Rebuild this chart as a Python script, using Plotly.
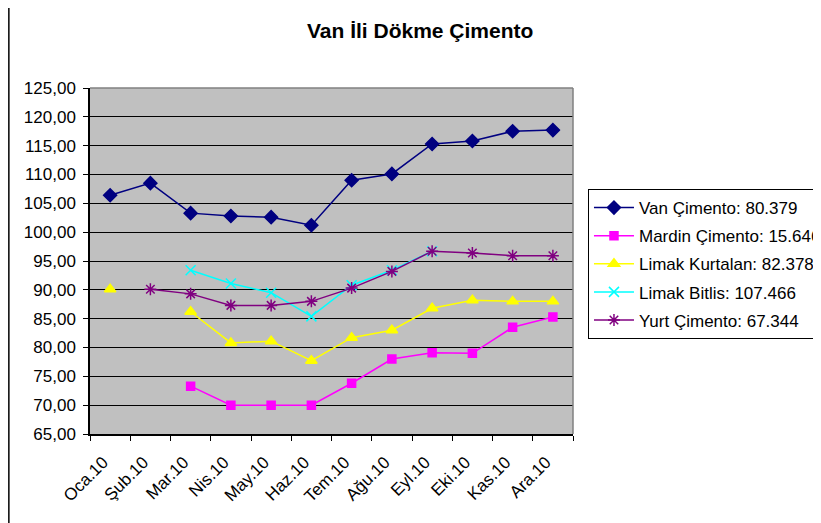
import plotly.graph_objects as go

months = ["Oca.10", "Şub.10", "Mar.10", "Nis.10", "May.10", "Haz.10",
          "Tem.10", "Ağu.10", "Eyl.10", "Eki.10", "Kas.10", "Ara.10"]

van = [106.4, 108.5, 103.3, 102.8, 102.6, 101.2, 109.0, 110.1, 115.3, 115.8, 117.5, 117.7]
mardin = [None, None, 73.3, 70.0, 70.0, 70.0, 73.8, 78.0, 79.1, 79.0, 83.5, 85.3]
kurtalan = [90.1, None, 86.2, 80.8, 81.1, 77.7, 81.7, 83.0, 86.8, 88.2, 88.0, 88.0]
bitlis = [None, None, 93.4, 91.1, 89.5, 85.4, 90.8, 93.4, 96.7, None, None, None]
yurt = [None, 90.1, 89.3, 87.3, 87.3, 88.0, 90.3, 93.2, 96.7, 96.4, 95.9, 95.9]

names = ["Van Çimento: 80.379", "Mardin Çimento: 15.646", "Limak Kurtalan: 82.378",
         "Limak Bitlis: 107.466", "Yurt Çimento: 67.344"]

series = [
    (van, "#000080", "diamond", 10),
    (mardin, "#FF00FF", "square", 8),
    (kurtalan, "#FFFF00", "triangle-up", 10),
    (bitlis, "#00FFFF", "x-thin-open", 10),
    (yurt, "#800080", "asterisk-open", 10),
]

fig = go.Figure()
for i, ((vals, color, sym, size), name) in enumerate(zip(series, names)):
    fig.add_trace(go.Scatter(
        x=months, y=vals, name=name, mode="lines+markers",
        connectgaps=False, legendgroup=f"g{i}",
        line=dict(color=color, width=1.5),
        marker=dict(symbol=sym, size=size, color=color,
                    line=dict(color=color, width=1.5)),
    ))

fig.update_layout(
    width=821, height=523,
    margin=dict(l=82, r=256, t=80, b=97, autoexpand=False),
    paper_bgcolor="white",
    plot_bgcolor="#C0C0C0",
    separators=",.",
    font=dict(family="Liberation Sans, Arial, sans-serif", size=15, color="black"),
    title=dict(text="<b>Van İli Dökme Çimento</b>", x=0.502, xanchor="center",
               y=0.956, yanchor="middle", font=dict(size=21)),
    showlegend=True,
    legend=dict(x=1.031, y=0.708, xanchor="left", yanchor="top",
                bordercolor="black", borderwidth=1, bgcolor="white",
                font=dict(size=17), tracegroupgap=3, itemwidth=40),
    xaxis=dict(type="category", categoryorder="array", categoryarray=months,
               tickson="boundaries", ticks="outside", ticklen=5,
               tickcolor="black", showline=True, linecolor="black", linewidth=1.5,
               showgrid=False, tickangle=-45, range=[-0.5, 11.5],
               tickfont=dict(size=17), ticklabelstandoff=10, ticklabelshift=-7),
    yaxis=dict(range=[65, 125], dtick=5, tickformat=".2f", ticks="outside",
               ticklen=5, tickcolor="black", showline=True, linecolor="black",
               linewidth=1.5, showgrid=True, gridcolor="black", gridwidth=1,
               zeroline=False, tickfont=dict(size=17), ticklabelstandoff=4),
    shapes=[
        dict(type="line", xref="paper", yref="paper", x0=0, x1=1, y0=1, y1=1,
             line=dict(color="#808080", width=1.5)),
        dict(type="line", xref="paper", yref="paper", x0=1, x1=1, y0=0, y1=1,
             line=dict(color="#808080", width=1.5)),
        dict(type="line", xref="paper", yref="paper", x0=-0.168, x1=-0.168,
             y0=-0.3, y1=1.3, line=dict(color="black", width=1.5)),
    ],
)

fig.write_html("out.html")
